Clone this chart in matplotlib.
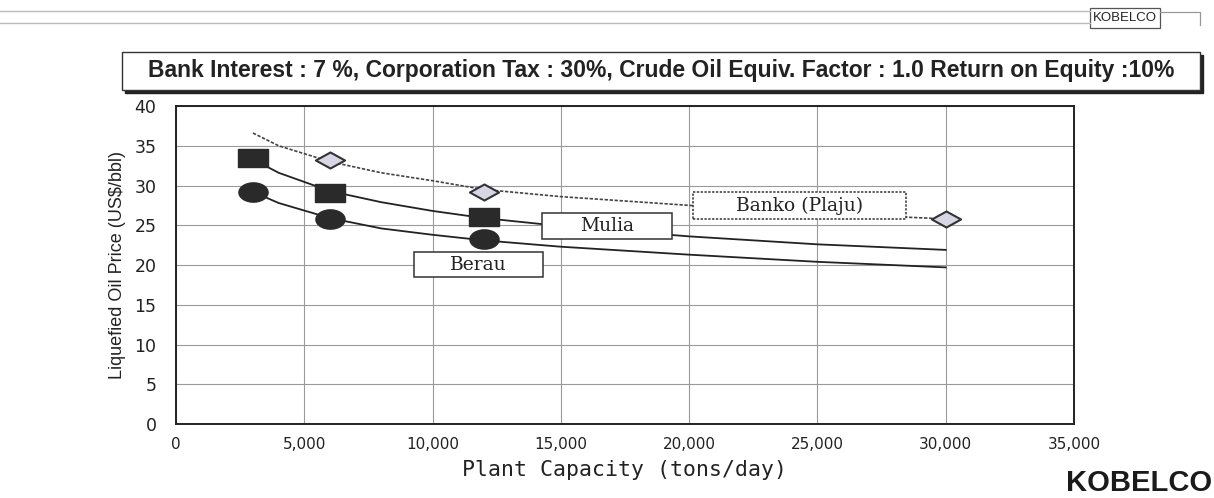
import numpy as np
import matplotlib
matplotlib.use("Agg")
import matplotlib.pyplot as plt
from matplotlib.path import Path
from matplotlib.patches import Rectangle
from matplotlib import font_manager

# ---------------- data ----------------
capacity_pts = [3000, 6000, 12000]
mulia_pts = [33.4, 29.1, 26.0]
berau_pts = [29.2, 25.8, 23.3]
banko_x_pts = [6000, 12000, 30000]
banko_pts = [33.2, 29.2, 25.8]

curve_x = [3000, 4000, 6000, 8000, 10000, 12000, 15000, 20000, 25000, 30000]
mulia_curve = [33.3, 31.6, 29.3, 27.9, 26.8, 25.9, 24.9, 23.6, 22.6, 21.9]
berau_curve = [29.2, 27.8, 25.9, 24.6, 23.8, 23.1, 22.3, 21.3, 20.4, 19.7]
banko_curve = [36.6, 35.0, 33.0, 31.6, 30.6, 29.5, 28.6, 27.5, 26.5, 25.8]

label_names = ["Berau", "Mulia", "Banko (Plaju)"]
label_x = [11790, 16800, 24300]
label_y = [20.06, 24.9, 27.5]

x_ticks = [0, 5000, 10000, 15000, 20000, 25000, 30000, 35000]
x_tick_labels = ["0", "5,000", "10,000", "15,000", "20,000", "25,000", "30,000", "35,000"]
y_ticks = [0, 5, 10, 15, 20, 25, 30, 35, 40]

title_text = ("Bank Interest : 7 %, Corporation Tax : 30%, Crude Oil Equiv. Factor : 1.0 "
              "Return on Equity :10%")

W, H = 1214, 498
fig = plt.figure(figsize=(W / 100, H / 100), dpi=100)

def fx(px):
    return px / W

def fy(py):
    return 1 - py / H

AX_L, AX_R, AX_T, AX_B = 176, 1074, 106, 424
ax = fig.add_axes([fx(AX_L), fy(AX_B), (AX_R - AX_L) / W, (AX_B - AX_T) / H])
ax.set_xlim(0, 35000)
ax.set_ylim(0, 40)
ax.set_xticks(x_ticks)
ax.set_xticklabels(x_tick_labels)
ax.set_yticks(y_ticks)
ax.grid(True, color="#9a9a9a", linewidth=0.8)
ax.set_axisbelow(True)
for s in ax.spines.values():
    s.set_linewidth(1.4)
    s.set_color("#222222")
ax.tick_params(axis="y", length=0, pad=14, labelsize=12.5, colors="#222222")
ax.tick_params(axis="x", length=0, pad=9, labelsize=11, colors="#222222")
for lab in ax.get_xticklabels() + ax.get_yticklabels():
    lab.set_family("DejaVu Sans")

ax.set_xlabel("Plant Capacity (tons/day)", fontsize=15.5, family="DejaVu Sans Mono",
              color="#222222", labelpad=6)
ax.set_ylabel("Liquefied Oil Price (US$/bbl)", fontsize=13,
              family=["Liberation Sans Narrow", "Liberation Sans"], color="#222222",
              labelpad=6)

# custom horizontally stretched markers
sq = Path([(-1, -0.62), (1, -0.62), (1, 0.62), (-1, 0.62), (-1, -0.62)],
          [Path.MOVETO, Path.LINETO, Path.LINETO, Path.LINETO, Path.CLOSEPOLY])
uc = Path.unit_circle()
circ = Path(uc.vertices * np.array([1.0, 0.66]), uc.codes)
dia = Path([(-1, 0), (0, 0.55), (1, 0), (0, -0.55), (-1, 0)],
           [Path.MOVETO, Path.LINETO, Path.LINETO, Path.LINETO, Path.CLOSEPOLY])

ax.plot(curve_x, mulia_curve, color="#222222", lw=1.3, zorder=3)
ax.plot(curve_x, berau_curve, color="#222222", lw=1.3, zorder=3)
ax.plot(curve_x, banko_curve, color="#444444", lw=1.2, ls=(0, (2, 1)), zorder=3)

ax.plot(capacity_pts, mulia_pts, ls="none", marker=sq, ms=21, color="#2a2a2a", zorder=5)
ax.plot(capacity_pts, berau_pts, ls="none", marker=circ, ms=21, color="#2a2a2a", zorder=5)
ax.plot(banko_x_pts, banko_pts, ls="none", marker=dia, ms=21, mfc="#d6d6e4",
        mec="#333333", mew=1.5, zorder=5)

# label boxes (size in pixels, converted to data units)
px_x = 35000 / (AX_R - AX_L)
px_y = 40 / (AX_B - AX_T)
box_px = [(129, 25), (130, 26), (213, 27)]
box_ls = ["-", "-", (0, (1.5, 1))]
serif = ["DejaVu Serif"]
for name, cx, cy, (bw, bh), bls in zip(label_names, label_x, label_y, box_px, box_ls):
    ax.add_patch(Rectangle((cx - bw * px_x / 2, cy - bh * px_y / 2), bw * px_x, bh * px_y,
                           fc="white", ec="#333333", lw=1.1, ls=bls, zorder=6))
    ax.text(cx, cy, name, ha="center", va="center", fontsize=13.5, family=serif,
            color="#222222", zorder=7)

# title box with shadow
bx0, by0, bx1, by1 = 122, 52, 1200, 90
fig.patches.append(Rectangle((fx(bx0 + 3), fy(by1 + 3)), (bx1 - bx0) / W, (by1 - by0) / H,
                             transform=fig.transFigure, fc="#222222", ec="#222222", lw=1))
fig.patches.append(Rectangle((fx(bx0), fy(by1)), (bx1 - bx0) / W, (by1 - by0) / H,
                             transform=fig.transFigure, fc="white", ec="#333333", lw=1))
fig.text(fx((bx0 + bx1) / 2), fy((by0 + by1) / 2), title_text, ha="center", va="center",
         fontsize=16.5, fontweight="bold", family="Liberation Sans", color="#222222")

# header strip
fig.add_artist(plt.Line2D([0, fx(1090)], [fy(11), fy(11)], transform=fig.transFigure,
                          color="#bbbbbb", lw=1))
fig.add_artist(plt.Line2D([0, fx(1090)], [fy(23), fy(23)], transform=fig.transFigure,
                          color="#bbbbbb", lw=1))
fig.patches.append(Rectangle((fx(1090), fy(28)), 70 / W, 20 / H, transform=fig.transFigure,
                             fc="white", ec="#555555", lw=0.9))
fig.text(fx(1125), fy(18), "KOBELCO", ha="center", va="center", fontsize=9.5,
         family="Liberation Sans", color="#222222")
fig.add_artist(plt.Line2D([fx(1160), fx(1200), fx(1200)], [fy(12), fy(12), fy(25)],
                          transform=fig.transFigure, color="#999999", lw=0.9))

# bottom-right logo
names = {f.name for f in font_manager.fontManager.ttflist}
if "Liberation Sans Narrow" in names:
    logo_fam, logo_size = "Liberation Sans Narrow", 26
else:
    logo_fam, logo_size = "Liberation Sans", 21
fig.text(fx(1212), fy(483), "KOBELCO", ha="right", va="center", fontsize=logo_size,
         fontweight="bold", family=logo_fam, color="#1a1a1a")

fig.savefig("out.png", dpi=100)
